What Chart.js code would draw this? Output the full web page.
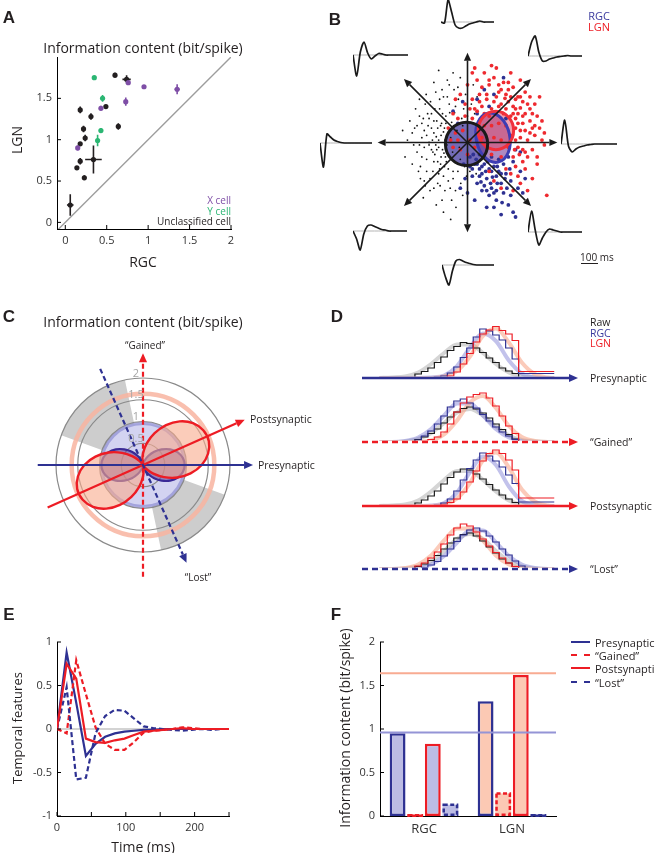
<!DOCTYPE html>
<html>
<head>
<meta charset="utf-8">
<script src="https://cdn.jsdelivr.net/npm/chart.js@4.4.1/dist/chart.umd.min.js"></script>
<style>
body { margin: 0; background: #fff; }
#fig { position: relative; width: 655px; height: 853px; overflow: hidden; font-family: "Open Sans", sans-serif; color: #231f20; }
#fig canvas { position: absolute; }
.t { position: absolute; white-space: nowrap; line-height: 1; }
.key { position: absolute; width: 19px; height: 0; }
</style>
</head>
<body>
<div id="fig"></div>
<script>
const BLUE = '#2e3192', RED = '#ed1c24', PURPLE = '#7e4ea6', GREEN = '#2bb673', INK = '#231f20';
const LAV_FILL = '#bcbce4', SALMON_FILL = '#fcc9b4', LAV_LINE = '#9494d6', SALMON_LINE = '#f8ab92';

// ---------- A: information content, RGC vs LGN
const xCells = [
  {x: 0.76, y: 1.69, xe: 0.02, ye: 0.03}, {x: 0.95, y: 1.64, xe: 0.02, ye: 0.02},
  {x: 1.35, y: 1.61, xe: 0.03, ye: 0.06}, {x: 0.73, y: 1.46, xe: 0.015, ye: 0.05},
  {x: 0.43, y: 1.38, xe: 0.015, ye: 0.03}, {x: 0.15, y: 0.90, xe: 0.01, ye: 0.03}];
const yCells = [
  {x: 0.35, y: 1.75, xe: 0.015, ye: 0.02}, {x: 0.45, y: 1.50, xe: 0.015, ye: 0.04},
  {x: 0.43, y: 1.11, xe: 0.01, ye: 0.03}, {x: 0.39, y: 0.99, xe: 0.01, ye: 0.07}];
const otherCells = [
  {x: 0.60, y: 1.78, xe: 0.01, ye: 0.03}, {x: 0.74, y: 1.73, xe: 0.05, ye: 0.05},
  {x: 0.49, y: 1.40, xe: 0.01, ye: 0.02}, {x: 0.18, y: 1.36, xe: 0.01, ye: 0.04},
  {x: 0.31, y: 1.28, xe: 0.01, ye: 0.04}, {x: 0.22, y: 1.13, xe: 0.01, ye: 0.04},
  {x: 0.24, y: 1.02, xe: 0.01, ye: 0.04}, {x: 0.18, y: 0.95, xe: 0.01, ye: 0.02},
  {x: 0.18, y: 0.74, xe: 0.01, ye: 0.04}, {x: 0.14, y: 0.66, xe: 0.01, ye: 0.02},
  {x: 0.23, y: 0.54, xe: 0.01, ye: 0.03}, {x: 0.64, y: 1.16, xe: 0.02, ye: 0.04},
  {x: 0.34, y: 0.76, xe: 0.10, ye: 0.17}, {x: 0.06, y: 0.21, xe: 0.04, ye: 0.13}];
const unityLine = [{x: -0.1, y: -0.1}, {x: 2, y: 2}];
const ticksAx = [0, 0.5, 1, 1.5, 2];
const ticksAy = [0, 0.5, 1, 1.5];

// ---------- B: stimulus space scatter
const rawPts = [[-1.25,0.05],[-1.1,0.3],[-1.05,-0.2],[-1.0,0.55],[-0.98,-0.5],[-0.95,0.1],[-0.9,-0.8],[-0.88,0.8],
  [-0.85,-0.35],[-0.82,0.35],[-0.8,-0.05],[-0.78,-1.0],[-0.75,0.6],[-0.72,-0.6],[-0.7,0.2],[-0.68,-0.25],[-0.66,1.05],
  [-0.64,0.45],[-0.62,-0.85],[-0.6,-0.1],[-0.58,0.7],[-0.56,-0.45],[-0.55,0.15],[-0.53,-1.2],[-0.5,0.95],[-0.5,-0.7],
  [-0.48,0.3],[-0.46,-0.3],[-0.45,0.55],[-0.43,-0.05],[-0.42,1.3],[-0.4,-0.55],[-0.38,0.8],[-0.36,-0.95],[-0.35,0.1],
  [-0.33,0.42],[-0.31,-0.2],[-0.3,-0.75],[-0.28,1.1],[-0.27,0.62],[-0.25,-0.42],[-0.24,-1.35],[-0.22,0.25],[-0.2,-0.6],
  [-0.19,0.9],[-0.17,-0.1],[-0.15,1.35],[-0.14,-0.85],[-0.12,0.5],[-0.1,-1.1],[-0.08,0.7],[-0.06,-0.5],[-0.04,1.0],
  [-0.02,-0.7],[0.0,0.55],[0.05,-0.6],[0.08,0.8],[0.1,-0.55],[0.12,1.2],[0.15,0.6],[0.18,-0.65],[0.2,0.95],
  [-1.15,-0.45],[-1.2,0.45],[-0.92,-1.15],[-0.86,1.0],[-0.7,1.25],[-0.65,-1.3],[-0.52,-0.15],[-0.47,0.05],[-0.62,0.3],
  [-0.7,-0.4],[-0.8,0.5],[-0.9,0.25],[-0.95,-0.3],[-0.58,-0.55],[-0.44,-0.4],[-0.37,0.62],[-0.54,0.4],[-0.66,-0.05],
  [-0.75,-0.15],[-0.85,0.15],[-1.02,-0.6],[-1.08,0.7],[-0.3,1.45],[-0.5,-1.45],[-0.35,-1.6],[-0.6,1.5],[-1.3,-0.3],
  [-1.35,0.25],[-0.25,-1.0],[-0.1,0.35],[0.05,0.4],[-0.15,-0.35],[-1.0,0.9],[-0.78,-0.75],[-1.12,-0.05],[-0.92,0.5],
  [-0.6,0.05],[-0.55,-0.3],[-0.5,0.22],[-0.48,-0.5],[-0.45,0.4],[-0.7,0.45],[-0.72,-0.2],[-0.65,0.12],[-0.6,-0.65],
  [-0.52,0.6],[-0.8,0.0],[-0.85,-0.6],[-0.75,0.3],[-0.68,0.7],[-0.9,-0.1],[-0.95,0.4],[-1.0,-0.05],[-0.58,0.9],
  [-0.4,-0.8],[-0.42,0.95],[-0.3,-0.6],[-0.25,0.75],[-0.62,-0.4],[-0.77,0.85],[-0.88,-0.9],[-0.57,-0.9],[-0.47,-1.0],
  [-0.33,-1.2],[-0.2,1.15],[-0.38,1.2],[-1.15,0.2],[-1.05,0.35],[-0.98,-0.75],[-0.7,-0.95],[-0.53,1.1],[-0.83,0.6],
  [-0.64,-0.15],[-0.49,-0.22],[-0.56,0.35],[-0.73,0.05]];
const rgcPts = [[0.05,-0.5],[0.1,-0.7],[0.15,-0.45],[0.2,-0.85],[0.25,-0.55],[0.3,-0.65],[0.35,-0.45],[0.4,-0.75],
  [0.45,-0.55],[0.5,-0.95],[0.55,-0.5],[0.6,-0.7],[0.65,-0.6],[0.7,-0.85],[0.75,-0.45],[0.8,-0.65],[0.3,-1.0],
  [0.45,-1.1],[0.6,-1.2],[0.75,-1.05],[0.85,-1.3],[0.95,-1.45],[1.0,-1.55],[0.9,-1.1],[0.55,-1.35],[1.05,-0.95],
  [0.9,-0.8],[0.95,-0.4],[1.1,-0.6],[0.35,-0.3],[0.25,-0.25],[0.12,-0.25],[-0.05,-0.75],[-0.15,-0.95],[0.0,-1.05],
  [0.15,-1.2],[-0.1,0.85],[0.2,0.9],[0.45,0.75],[0.35,1.1],[0.8,0.5],[-0.3,0.65],[-0.2,0.4],[1.1,-0.2],[1.2,-0.75],
  [0.4,-1.35],[0.7,-1.5],[0.5,-0.3],[0.65,-0.35],[0.85,-0.3],[1.0,-0.15],[0.2,0.6],[0.6,-1.0],[0.28,-0.82],
  [0.72,-1.25],[0.05,-0.3],[-0.08,-0.45],[1.15,-1.05],[0.55,1.0],[0.75,1.35],[0.38,-0.6],[0.52,-0.72],[0.18,-0.35],
  [0.2,-0.45],[0.3,-0.5],[0.42,-0.4],[0.5,-0.6],[0.62,-0.5],[0.7,-0.65],[0.35,-0.9],[0.48,-0.85],[0.62,-0.85],
  [0.78,-0.75],[0.88,-0.55],[0.25,-0.7],[0.1,-0.55],[0.4,-1.0],[0.55,-1.05],[0.82,-0.95]];
const lgnPts = [[0.0,1.2],[0.1,1.45],[0.2,1.3],[0.3,1.15],[0.35,1.45],[0.45,1.2],[0.55,1.35],[0.65,1.05],[0.75,1.25],
  [0.85,1.1],[0.95,1.15],[1.05,0.95],[1.15,0.85],[1.2,1.05],[1.3,0.7],[1.4,0.8],[1.45,0.55],[1.3,0.45],[1.5,0.3],
  [1.55,0.05],[1.4,0.15],[1.6,-0.05],[1.35,-0.15],[1.25,-0.3],[1.45,-0.45],[1.2,-0.55],[1.35,-0.75],[1.1,-0.85],
  [1.25,-1.0],[1.65,-1.1],[1.05,0.6],[1.0,0.3],[1.1,0.1],[1.15,0.4],[1.05,-0.1],[0.95,0.75],[0.85,0.85],[0.7,0.8],
  [0.55,0.85],[0.4,0.9],[0.3,0.75],[0.2,0.65],[0.1,0.9],[-0.05,0.8],[-0.15,1.0],[-0.25,0.9],[-0.3,0.6],[-0.2,0.5],
  [-0.05,0.55],[0.1,0.5],[0.25,0.45],[0.9,0.55],[1.0,0.5],[1.2,0.25],[1.25,0.05],[0.95,-0.3],[1.0,-0.5],[0.9,-0.65],
  [0.8,-0.55],[0.55,-0.8],[0.45,-0.6],[0.7,-0.95],[0.95,-1.0],[1.5,0.95],[1.1,1.3],[0.6,1.55],[0.9,1.45],[1.3,0.95],
  [-0.4,0.3],[-0.35,0.05],[0.15,1.55],[0.5,1.6],[1.45,-0.3],[1.55,0.45],[1.6,0.2],[0.8,0.35],[0.75,0.6],[0.6,0.62],
  [0.45,0.55],[0.35,0.35],[0.3,0.1],[0.4,-0.1],[0.5,-0.25],[0.7,-0.3],[0.85,-0.1],[0.9,0.15],[0.55,0.1],[0.7,0.05],
  [0.65,0.4],[0.5,0.35],[1.1,0.72],[1.35,0.3],[1.2,-0.2],[0.65,1.2],[0.25,1.0],[-0.1,0.25],[-0.25,0.2],[-0.3,-0.1],
  [-0.15,-0.15],[0.05,0.05],[0.15,-0.1],[-0.2,0.05],[0.0,-0.25],[1.0,0.9],[1.15,0.55],[0.8,1.0],
  [0.35,0.6],[0.5,0.7],[0.65,0.75],[0.8,0.7],[0.95,0.6],[1.05,0.4],[1.1,0.25],[1.0,0.05],[1.08,-0.25],[0.98,-0.15],
  [1.15,-0.4],[0.4,1.0],[0.6,0.95],[0.78,0.92],[0.9,0.95],[1.0,0.7],[1.2,0.6],[1.25,0.8],[0.85,1.25],[0.45,1.3],
  [1.3,0.2],[1.4,0.35],[1.35,0.6],[0.25,0.85],[0.15,0.7],[0.05,0.7],[1.05,-0.7],[1.15,-0.15],[1.1,0.95],[0.7,1.1]];
// cluster outlines: [centre x, centre y, radius x, radius y, tilt deg]
const rawEllipse = [-0.02, -0.03, 0.44, 0.45, 0];
const rgcEllipse = [0.53, 0.1, 0.35, 0.52, -12];
const lgnEllipse = [0.59, 0.25, 0.37, 0.4, 0];
const bDirections = [0, 45, 90, 135, 180, 225, 270, 315];
// filter time courses shown at the end of each direction
const waveRight = [0, 24, -2, -8, -5, -3, -2, -1, -0.5, 0, 0, 0, 0, 0, 0, 0];
const waveUpRight = [0, 14, 20, 4, -5, -5, -3, -2, -1, -0.5, 0, 0.5, 0, 0, 0, 0];
const waveUp = [0, -1, 22, 10, -3, -6, -6, -4, -2, -1, 0, 1, 0, 0, 0, 0];
const waveUpLeft = [0, -21, 3, 13, 2, -4, -1, 1.5, 1, 0, 0, 0, 0, 0, 0, 0];
const waveLeft = [0, -24, 9, 6, 3, 1.5, 0.5, 0, 0, 0, 0, 0, 0, 0, 0, 0];
const waveDownLeft = [0, -8, -19, -3, 5, 6, 4.5, 3, 1.5, 1, 0, 0, 0, 0, 0, 0];
const waveDown = [0, -12, -20, -6, 4, 5.5, 4, 2.5, 1.5, 0.5, 0, 0, 0, 0, 0, 0];
const waveDownRight = [0, 21, 2, -13, -6, 0, 3, 2, 1, 0, 0, 0, 0, 0, 0, 0];

// ---------- C: polar information content
const lobeAngle = [0,350,340,330,320,310,300,290,280,270,260,250,240,230,220,210,200,190,
  180,170,160,150,140,130,120,110,100,90,80,70,60,50,40,30,20,10];
const rgcLobe = [0.96,0.93,0.85,0.72,0.56,0.40,0.24,0.11,0.03,0,0.03,0.11,0.24,0.40,0.56,0.72,0.85,0.93,
  0.96,0.93,0.85,0.72,0.56,0.40,0.24,0.11,0.03,0,0.03,0.11,0.24,0.40,0.56,0.72,0.85,0.93];
const lgnLobe = [1.35,1.11,0.84,0.56,0.31,0.12,0.02,0.01,0.09,0.27,0.51,0.78,1.06,1.31,1.50,1.60,1.61,1.52,
  1.35,1.11,0.84,0.56,0.31,0.12,0.02,0.01,0.09,0.27,0.51,0.78,1.06,1.31,1.50,1.60,1.61,1.52];
const ringTicks = [0.5, 1, 1.5, 2];
const lostWedge = [102, 160];   // degrees, mirrored through the origin

// ---------- D: projections onto each feature
const dX = [8,11,14,17,20,23,26,29,32,35,38,41,44,47,50,53,56,59,62,65,68,71,74,77,80,83,86,89];
const fitX = [8,14,20,26,32,38,44,50,56,62,68,74,80,86,89];
const raw1 = [0,0,0,0,0,0,0.08,0.13,0.2,0.31,0.42,0.55,0.63,0.71,0.69,0.6,0.51,0.4,0.31,0.2,0.14,0.09,0,0,0,0,0,0];
const rgc1 = [0,0,0,0,0,0,0,0,0,0.02,0.04,0.1,0.22,0.41,0.6,0.82,0.98,0.94,0.86,0.76,0.6,0.38,0.09,0.09,0.09,0.09,0.09,0.09];
const lgn1 = [0,0,0,0,0,0,0,0,0,0,0.01,0.04,0.12,0.28,0.49,0.72,0.88,0.96,1.03,0.95,0.88,0.75,0.13,0.13,0.13,0.13,0.13,0.13];
const raw2 = [0,0,0,0,0,0,0.05,0.1,0.17,0.26,0.38,0.5,0.6,0.67,0.7,0.66,0.58,0.48,0.36,0.25,0.15,0.06,0,0,0,0,0,0];
const rgc2 = [0,0,0,0,0,0,0.04,0.12,0.22,0.36,0.52,0.7,0.82,0.86,0.78,0.68,0.55,0.42,0.3,0.2,0.12,0.05,0,0,0,0,0,0];
const lgn2 = [0,0,0,0,0,0,0,0.02,0.05,0.1,0.2,0.36,0.6,0.78,0.9,0.95,0.98,0.88,0.72,0.52,0.32,0.17,0,0,0,0,0,0];
const raw3 = [0,0,0,0,0,0,0.06,0.12,0.2,0.3,0.44,0.57,0.68,0.74,0.72,0.64,0.54,0.43,0.32,0.22,0.14,0.07,0,0,0,0,0,0];
const rgc3 = [0,0,0,0,0,0,0,0,0,0.02,0.06,0.14,0.3,0.52,0.75,0.92,1.06,1.0,0.9,0.78,0.62,0.45,0.08,0.08,0.08,0.08,0.08,0.08];
const lgn3 = [0,0,0,0,0,0,0,0,0,0.01,0.03,0.07,0.14,0.28,0.48,0.7,0.9,1.05,1.12,1.05,0.92,0.72,0.16,0.16,0.16,0.16,0.16,0.16];
const raw4 = [0,0,0,0,0,0,0.05,0.1,0.17,0.27,0.4,0.52,0.62,0.69,0.72,0.66,0.56,0.44,0.32,0.2,0.12,0.05,0,0,0,0,0,0];
const rgc4 = [0,0,0,0,0,0,0,0.03,0.08,0.15,0.26,0.4,0.55,0.68,0.78,0.82,0.76,0.66,0.54,0.4,0.28,0.16,0.06,0,0,0,0,0];
const lgn4 = [0,0,0,0,0,0,0.06,0.12,0.22,0.34,0.5,0.68,0.82,0.9,0.86,0.74,0.6,0.46,0.33,0.22,0.12,0.05,0,0,0,0,0,0];
const fitRaw1 = [0,0.01,0.03,0.11,0.28,0.5,0.67,0.67,0.5,0.28,0.11,0.03,0.01,0,0];
const fitRgc1 = [0,0,0,0,0.01,0.05,0.24,0.61,0.89,0.74,0.35,0.09,0.01,0,0];
const fitLgn1 = [0,0,0,0,0,0.03,0.14,0.43,0.84,0.99,0.71,0.31,0.08,0.01,0];
const fitRaw2 = [0,0,0.01,0.06,0.18,0.38,0.59,0.66,0.53,0.31,0.13,0.04,0.01,0,0];
const fitRgc2 = [0,0,0.02,0.09,0.26,0.53,0.77,0.77,0.53,0.26,0.09,0.02,0,0,0];
const fitLgn2 = [0,0,0,0,0.03,0.15,0.43,0.79,0.92,0.68,0.32,0.1,0.02,0,0];
const fitRaw3 = [0,0.01,0.03,0.11,0.29,0.52,0.7,0.7,0.52,0.29,0.11,0.03,0.01,0,0];
const fitRgc3 = [0,0,0,0,0.01,0.06,0.27,0.68,0.99,0.82,0.39,0.1,0.02,0,0];
const fitLgn3 = [0,0,0,0,0,0.03,0.15,0.46,0.91,1.07,0.77,0.33,0.09,0.01,0];
const fitRaw4 = [0,0,0.01,0.05,0.16,0.36,0.6,0.7,0.6,0.36,0.16,0.05,0.01,0,0];
const fitRgc4 = [0,0,0,0.02,0.09,0.26,0.53,0.77,0.77,0.53,0.26,0.09,0.02,0,0];
const fitLgn4 = [0,0,0.02,0.09,0.27,0.57,0.81,0.81,0.57,0.27,0.09,0.02,0,0,0];
const dLabels = ['Presynaptic', '\u201cGained\u201d', 'Postsynaptic', '\u201cLost\u201d'];

// ---------- E: temporal features
const timeMs = [0,14,28,42,56,70,84,98,112,126,140,154,168,182,196,210,224,238,250];
const presynE = [0,0.88,0.30,-0.31,-0.17,-0.09,-0.05,-0.03,-0.02,-0.01,-0.01,0,0,0,0,0,0,0,0];
const gainedE = [0,-0.05,0.79,0.40,0.02,-0.17,-0.24,-0.24,-0.15,-0.04,-0.02,-0.01,0,0.02,0.01,0,0,0,0];
const postsynE = [0,0.75,0.58,-0.11,-0.15,-0.16,-0.13,-0.11,-0.07,-0.03,-0.02,-0.01,0,0.01,0,0,0,0,0];
const lostE = [0,0.48,-0.58,-0.56,-0.05,0.15,0.22,0.21,0.12,0.03,0.01,0,-0.01,-0.02,-0.01,0,-0.01,0,0];
const ticksEx = [0, 50, 100, 150, 200, 250];
const ticksEy = [-1, -0.5, 0, 0.5, 1];

// ---------- F: information per feature
const fGroups = ['RGC', 'LGN'];
const fPre = [0.95, 1.32];
const fGained = [0.01, 0.26];
const fPost = [0.83, 1.62];
const fLost = [0.13, 0.01];
const RGC_MAX = 0.96, LGN_MAX = 1.64;
const ticksFy = [0, 0.5, 1, 1.5, 2];

Chart.defaults.font.family = '"Open Sans", sans-serif';
Chart.defaults.color = INK;
Chart.defaults.animation = false;
Chart.defaults.plugins.legend.display = false;
Chart.defaults.plugins.tooltip.enabled = false;

const fig = document.getElementById('fig');

function makeCanvas(x, y, w, h) {
  const c = document.createElement('canvas');
  c.width = w; c.height = h;
  c.style.left = x + 'px'; c.style.top = y + 'px';
  fig.appendChild(c);
  return c;
}

function text(str, x, y, o = {}) {
  const d = document.createElement('div');
  d.className = 't';
  d.textContent = str;
  d.style.left = x + 'px';
  d.style.top = y + 'px';
  d.style.fontSize = (o.size || 11) + 'px';
  if (o.color) d.style.color = o.color;
  if (o.bold) { d.style.fontWeight = 'bold'; d.style.fontFamily = '"Liberation Sans", Arial, sans-serif'; }
  const ax = o.align === 'left' ? '0' : o.align === 'right' ? '-100%' : '-50%';
  d.style.transform = 'translate(' + ax + ',-50%)' + (o.rot ? ' rotate(-90deg)' : '');
  fig.appendChild(d);
}

function arrow(ctx, x0, y0, x1, y1, color, width, dash, head) {
  const a = Math.atan2(y1 - y0, x1 - x0);
  const hx = x1 - head * Math.cos(a), hy = y1 - head * Math.sin(a);
  ctx.save();
  ctx.strokeStyle = color; ctx.fillStyle = color; ctx.lineWidth = width;
  ctx.setLineDash(dash);
  ctx.beginPath(); ctx.moveTo(x0, y0); ctx.lineTo(hx, hy); ctx.stroke();
  ctx.setLineDash([]);
  ctx.beginPath();
  ctx.moveTo(x1, y1);
  ctx.lineTo(hx + head * 0.45 * Math.sin(a), hy - head * 0.45 * Math.cos(a));
  ctx.lineTo(hx - head * 0.45 * Math.sin(a), hy + head * 0.45 * Math.cos(a));
  ctx.closePath(); ctx.fill();
  ctx.restore();
}

// matlab style ticks pointing into the plot
const inTicks = {
  id: 'inTicks',
  afterDraw(chart, args, opts) {
    const ctx = chart.ctx, a = chart.chartArea;
    ctx.save(); ctx.strokeStyle = '#000'; ctx.lineWidth = 1;
    (opts.axes || []).forEach(id => {
      const s = chart.scales[id];
      s.ticks.forEach(t => {
        const p = s.getPixelForValue(t.value);
        ctx.beginPath();
        if (s.isHorizontal()) { ctx.moveTo(p, a.bottom); ctx.lineTo(p, a.bottom - 4); }
        else { ctx.moveTo(a.left, p); ctx.lineTo(a.left + 4, p); }
        ctx.stroke();
      });
    });
    ctx.restore();
  }
};

function axis(min, max, ticks, size, horizontal, pad) {
  return {
    type: 'linear', min: min, max: max,
    afterBuildTicks: s => { s.ticks = ticks.map(v => ({value: v})); },
    afterFit: s => { if (horizontal) s.height = size; else s.width = size; },
    grid: {display: false, drawTicks: false},
    border: {display: true, color: '#000', width: 1},
    ticks: {autoSkip: false, maxRotation: 0, padding: pad, font: {size: 11}, color: '#333', callback: v => String(v)}
  };
}

// ================= A
const errorBars = {
  id: 'errorBars',
  beforeDatasetsDraw(chart) {
    const ctx = chart.ctx, sx = chart.scales.x, sy = chart.scales.y;
    chart.data.datasets.forEach(ds => {
      if (!ds.errorBars) return;
      ctx.save(); ctx.strokeStyle = ds.backgroundColor; ctx.lineWidth = 1.6;
      ds.data.forEach(d => {
        const px = sx.getPixelForValue(d.x), py = sy.getPixelForValue(d.y);
        ctx.beginPath();
        ctx.moveTo(sx.getPixelForValue(d.x - d.xe), py); ctx.lineTo(sx.getPixelForValue(d.x + d.xe), py);
        ctx.moveTo(px, sy.getPixelForValue(d.y - d.ye)); ctx.lineTo(px, sy.getPixelForValue(d.y + d.ye));
        ctx.stroke();
      });
      ctx.restore();
    });
  }
};

new Chart(makeCanvas(0, 0, 330, 290), {
  type: 'scatter',
  data: {datasets: [
    {data: xCells, backgroundColor: PURPLE, pointRadius: 2.6, borderWidth: 0, errorBars: true},
    {data: yCells, backgroundColor: GREEN, pointRadius: 2.6, borderWidth: 0, errorBars: true},
    {data: otherCells, backgroundColor: INK, pointRadius: 2.6, borderWidth: 0, errorBars: true},
    {type: 'line', data: unityLine, borderColor: '#9d9d9d', borderWidth: 1.4, pointRadius: 0}
  ]},
  options: {
    responsive: false,
    layout: {padding: {top: 57, right: 99}},
    scales: {x: axis(-0.1, 2, ticksAx, 61, true, 5), y: axis(-0.08, 2, ticksAy, 57, false, 5)},
    plugins: {inTicks: {axes: ['x', 'y']}}
  },
  plugins: [inTicks, errorBars]
});

text('A', 9, 17, {size: 17, bold: true});
text('Information content (bit/spike)', 143, 48, {size: 14});
text('LGN', 17, 140, {size: 14, rot: true});
text('RGC', 143, 262, {size: 14});
text('X cell', 231, 200, {size: 10, color: PURPLE, align: 'right'});
text('Y cell', 231, 210.5, {size: 10, color: GREEN, align: 'right'});
text('Unclassified cell', 231, 221, {size: 10, align: 'right'});

// ================= B
function ellipsePath(ctx, sx, sy, e) {
  const rx = Math.abs(sx.getPixelForValue(e[2]) - sx.getPixelForValue(0));
  const ry = Math.abs(sy.getPixelForValue(e[3]) - sy.getPixelForValue(0));
  ctx.beginPath();
  ctx.ellipse(sx.getPixelForValue(e[0]), sy.getPixelForValue(e[1]), rx, ry, e[4] * Math.PI / 180, 0, 2 * Math.PI);
}

const bDecor = {
  id: 'bDecor',
  beforeDatasetsDraw(chart) {
    const ctx = chart.ctx, sx = chart.scales.x, sy = chart.scales.y;
    ctx.save();
    ellipsePath(ctx, sx, sy, rawEllipse); ctx.fillStyle = 'rgba(80,70,165,0.8)'; ctx.fill();
    ellipsePath(ctx, sx, sy, rgcEllipse); ctx.fillStyle = 'rgba(120,60,150,0.6)'; ctx.fill();
    ellipsePath(ctx, sx, sy, lgnEllipse); ctx.fillStyle = 'rgba(225,70,100,0.5)'; ctx.fill();
    ctx.restore();
  },
  afterDatasetsDraw(chart) {
    const ctx = chart.ctx, sx = chart.scales.x, sy = chart.scales.y;
    ctx.save(); ctx.lineWidth = 3;
    ellipsePath(ctx, sx, sy, rgcEllipse); ctx.strokeStyle = '#3d3db4'; ctx.stroke();
    ellipsePath(ctx, sx, sy, lgnEllipse); ctx.strokeStyle = '#f0303c'; ctx.stroke();
    ellipsePath(ctx, sx, sy, rawEllipse); ctx.strokeStyle = '#1a1a1a'; ctx.stroke();
    ctx.restore();
    const x0 = sx.getPixelForValue(0), y0 = sy.getPixelForValue(0);
    bDirections.forEach(deg => {
      const r = deg * Math.PI / 180;
      arrow(ctx, x0, y0, sx.getPixelForValue(1.87 * Math.cos(r)), sy.getPixelForValue(1.87 * Math.sin(r)),
        '#1a1a1a', 1.6, [], 8);
    });
  }
};

const toXY = pts => pts.map(p => ({x: p[0], y: p[1]}));
new Chart(makeCanvas(365, 40, 205, 205), {
  type: 'scatter',
  data: {datasets: [
    {data: toXY(lgnPts), backgroundColor: '#ee2a2f', pointRadius: 1.9, borderWidth: 0},
    {data: toXY(rgcPts), backgroundColor: '#2e3192', pointRadius: 1.9, borderWidth: 0},
    {data: toXY(rawPts), backgroundColor: '#111', pointRadius: 0.9, borderWidth: 0}
  ]},
  options: {
    responsive: false,
    scales: {x: {display: false, min: -2.05, max: 2.05}, y: {display: false, min: -2.05, max: 2.05}}
  },
  plugins: [bDecor]
});

// waveform thumbnails: [data, left, baseline y, width]
const waves = [
  [waveUp, 441, 22, 53], [waveUpRight, 528, 56, 54], [waveRight, 561, 144, 56], [waveDownRight, 528, 232, 54],
  [waveDown, 442, 265, 52], [waveDownLeft, 353, 231, 54], [waveLeft, 320, 143, 52], [waveUpLeft, 353, 55, 55]];
waves.forEach(w => {
  new Chart(makeCanvas(w[1], w[2] - 25, w[3], 50), {
    type: 'line',
    data: {labels: w[0].map((v, i) => i), datasets: [
      {data: w[0], borderColor: '#1a1a1a', borderWidth: 1.7, pointRadius: 0, tension: 0.25},
      {data: w[0].map(() => 0), borderColor: '#b5b5b5', borderWidth: 1, pointRadius: 0}
    ]},
    options: {responsive: false, scales: {x: {display: false}, y: {display: false, min: -25, max: 25}}}
  });
});

text('B', 335, 19, {size: 17, bold: true});
text('RGC', 610, 15, {size: 11, color: '#3a3a9e', align: 'right'});
text('LGN', 610, 26, {size: 11, color: RED, align: 'right'});
text('100 ms', 580, 257, {size: 10, align: 'left'});
const bar100 = document.createElement('div');
bar100.style.cssText = 'position:absolute;left:581px;top:263px;width:17px;height:0;border-top:1.3px solid #231f20;';
fig.appendChild(bar100);

// ================= C
const cDecor = {
  id: 'cDecor',
  beforeDraw(chart) {
    const ctx = chart.ctx, s = chart.scales.r, cx = s.xCenter, cy = s.yCenter;
    const R = v => s.getDistanceFromCenterForValue(v);
    ctx.save();
    ctx.fillStyle = '#cdcdcd';
    [0, 180].forEach(off => {
      const a0 = -(lostWedge[1] + off) * Math.PI / 180, a1 = -(lostWedge[0] + off) * Math.PI / 180;
      ctx.beginPath();
      ctx.arc(cx, cy, R(2), a0, a1);
      ctx.arc(cx, cy, R(RGC_MAX), a1, a0, true);
      ctx.closePath(); ctx.fill();
    });
    ctx.beginPath(); ctx.arc(cx, cy, R(RGC_MAX), 0, 2 * Math.PI);
    ctx.fillStyle = 'rgba(196,196,236,0.75)'; ctx.fill();
    ctx.lineWidth = 3.5; ctx.strokeStyle = 'rgba(150,150,215,0.8)'; ctx.stroke();
    ctx.beginPath(); ctx.arc(cx, cy, R(LGN_MAX), 0, 2 * Math.PI);
    ctx.lineWidth = 4.5; ctx.strokeStyle = 'rgba(248,180,160,0.85)'; ctx.stroke();
    ctx.restore();
  },
  afterDatasetsDraw(chart) {
    const ctx = chart.ctx, s = chart.scales.r, cx = s.xCenter, cy = s.yCenter;
    const R = v => s.getDistanceFromCenterForValue(v);
    const pt = (deg, v) => [cx + R(v) * Math.cos(deg * Math.PI / 180), cy - R(v) * Math.sin(deg * Math.PI / 180)];
    const axes = [
      [180, 2.42, 0, 2.53, BLUE, []], [204, 2.4, 24, 2.56, RED, []],
      [270, 2.57, 90, 2.57, RED, [5, 3]], [114, 2.42, -66, 2.46, BLUE, [5, 3]]];
    axes.forEach(a => {
      const p0 = pt(a[0], a[1]), p1 = pt(a[2], a[3]);
      arrow(ctx, p0[0], p0[1], p1[0], p1[1], a[4], 2.2, a[5], 9);
    });
    ctx.save();
    ctx.fillStyle = '#a5a5a5'; ctx.font = '11px "Open Sans", sans-serif';
    ctx.textAlign = 'center'; ctx.textBaseline = 'bottom';
    ringTicks.forEach(v => ctx.fillText(String(v), cx - 7, cy - R(v) + 1));
    ctx.restore();
  }
};

new Chart(makeCanvas(0, 320, 330, 290), {
  type: 'radar',
  data: {labels: lobeAngle, datasets: [
    {data: lgnLobe, borderColor: RED, borderWidth: 2.4, backgroundColor: 'rgba(248,170,140,0.6)', fill: true, pointRadius: 0, tension: 0.3},
    {data: rgcLobe, borderColor: '#3b2a96', borderWidth: 2.2, backgroundColor: 'rgba(95,60,140,0.55)', fill: true, pointRadius: 0, tension: 0.3}
  ]},
  options: {
    responsive: false,
    layout: {padding: {left: 56, right: 100, top: 58, bottom: 58}},
    scales: {r: {
      min: 0, max: 2, startAngle: 90,
      ticks: {display: false, stepSize: 0.5},
      grid: {circular: true, color: '#8a8a8a', lineWidth: 1.2},
      angleLines: {display: false},
      pointLabels: {display: false}
    }}
  },
  plugins: [cDecor]
});

text('C', 9, 316, {size: 17, bold: true});
text('Information content (bit/spike)', 143, 322, {size: 14});
text('\u201cGained\u201d', 145, 345, {size: 10});
text('Postsynaptic', 250, 419, {size: 10.5, align: 'left'});
text('Presynaptic', 258, 465, {size: 10.5, align: 'left'});
text('\u201cLost\u201d', 198, 577, {size: 10});

// ================= D
const dRows = [
  [raw1, rgc1, lgn1, fitRaw1, fitRgc1, fitLgn1],
  [raw2, rgc2, lgn2, fitRaw2, fitRgc2, fitLgn2],
  [raw3, rgc3, lgn3, fitRaw3, fitRgc3, fitLgn3],
  [raw4, rgc4, lgn4, fitRaw4, fitRgc4, fitLgn4]];
const dBase = [378, 442, 506, 569];
const dArrowStyle = [[BLUE, []], [RED, [6, 4]], [RED, []], [BLUE, [6, 4]]];

const dArrow = {
  id: 'dArrow',
  afterDatasetsDraw(chart, args, opts) {
    const sx = chart.scales.x, y = chart.chartArea.bottom;
    arrow(chart.ctx, sx.getPixelForValue(0), y, sx.getPixelForValue(100), y, opts.color, 2.3, opts.dash, 9);
  }
};

const clipAbove = {left: 5, right: 5, top: 10, bottom: -1.5};
dRows.forEach((row, k) => {
  const hist = (arr, color) => ({data: dX.map((x, i) => ({x: x, y: arr[i]})), borderColor: color,
    borderWidth: 1.2, pointRadius: 0, stepped: 'middle', clip: clipAbove});
  const fit = (arr, color) => ({data: fitX.map((x, i) => ({x: x, y: arr[i]})), borderColor: color,
    borderWidth: 4, pointRadius: 0, cubicInterpolationMode: 'monotone', clip: clipAbove});
  new Chart(makeCanvas(355, dBase[k] - 62, 235, 70), {
    type: 'line',
    data: {datasets: [
      hist(row[2], RED), hist(row[1], BLUE), hist(row[0], '#1a1a1a'),
      fit(row[5], 'rgba(248,160,130,0.55)'), fit(row[4], 'rgba(120,120,210,0.45)'), fit(row[3], 'rgba(150,150,150,0.4)')
    ]},
    options: {
      responsive: false,
      layout: {padding: {left: 7, right: 12, top: 2, bottom: 8}},
      scales: {x: {type: 'linear', display: false, min: 0, max: 100}, y: {display: false, min: 0, max: 1.2}},
      plugins: {dArrow: {color: dArrowStyle[k][0], dash: dArrowStyle[k][1]}}
    },
    plugins: [dArrow]
  });
  text(dLabels[k], 590, dBase[k], {size: 10.5, align: 'left'});
});

text('D', 337, 316, {size: 17, bold: true});
text('Raw', 590, 322, {size: 10.5, align: 'left'});
text('RGC', 590, 332.5, {size: 10.5, align: 'left', color: '#3a3a9e'});
text('LGN', 590, 343, {size: 10.5, align: 'left', color: RED});

// ================= E
const lineE = (arr, color, dash) => ({data: timeMs.map((t, i) => ({x: t, y: arr[i]})), borderColor: color,
  borderWidth: 2.2, borderDash: dash, pointRadius: 0});
const axEx = axis(0, 250, ticksEx, 37, true, 5);
axEx.ticks.callback = v => (v % 100 === 0 ? String(v) : '');
new Chart(makeCanvas(0, 600, 330, 253), {
  type: 'line',
  data: {datasets: [
    lineE(postsynE, RED, []), lineE(lostE, BLUE, [5, 3]), lineE(gainedE, RED, [5, 3]), lineE(presynE, BLUE, []),
    {data: [{x: 0, y: 0}, {x: 250, y: 0}], borderColor: '#a8a8a8', borderWidth: 1.2, pointRadius: 0}
  ]},
  options: {
    responsive: false,
    layout: {padding: {top: 42, right: 101}},
    scales: {x: axEx, y: axis(-1, 1, ticksEy, 57, false, 5)},
    plugins: {inTicks: {axes: ['x', 'y']}}
  },
  plugins: [inTicks]
});

text('E', 9, 614, {size: 17, bold: true});
text('Temporal features', 17, 728, {size: 13, rot: true});
text('Time (ms)', 143, 847, {size: 14});

// ================= F
const fDecor = {
  id: 'fDecor',
  afterDatasetsDraw(chart) {
    const ctx = chart.ctx, a = chart.chartArea, sy = chart.scales.y;
    chart.data.datasets.forEach((ds, i) => {
      if (!ds.dashColor) return;
      chart.getDatasetMeta(i).data.forEach(bar => {
        const p = bar.getProps(['x', 'y', 'base', 'width'], true);
        ctx.save();
        ctx.strokeStyle = ds.dashColor; ctx.lineWidth = 2.5; ctx.setLineDash([4, 2.5]);
        ctx.strokeRect(p.x - p.width / 2 + 1.25, p.y, p.width - 2.5, Math.max(p.base - p.y - 1.25, 0.5));
        ctx.restore();
      });
    });
    [[LGN_MAX, SALMON_LINE], [RGC_MAX, LAV_LINE]].forEach(r => {
      const y = sy.getPixelForValue(r[0]);
      ctx.save(); ctx.strokeStyle = r[1]; ctx.lineWidth = 2;
      ctx.beginPath(); ctx.moveTo(a.left, y); ctx.lineTo(a.right, y); ctx.stroke();
      ctx.restore();
    });
  }
};

const barF = (arr, color, dashed) => ({data: arr, backgroundColor: [LAV_FILL, SALMON_FILL],
  borderColor: color, borderWidth: dashed ? 0 : 2.5, borderSkipped: false, dashColor: dashed ? color : null});
const axFx = {
  afterFit: s => { s.height = 37; },
  grid: {display: false, drawTicks: false},
  border: {display: true, color: '#000', width: 1},
  ticks: {padding: 5, font: {size: 13}, color: '#333'}
};
new Chart(makeCanvas(330, 600, 325, 253), {
  type: 'bar',
  data: {labels: fGroups, datasets: [
    barF(fPre, BLUE, false), barF(fGained, RED, true), barF(fPost, RED, false), barF(fLost, BLUE, true)
  ]},
  options: {
    responsive: false,
    layout: {padding: {top: 42, right: 99}},
    scales: {x: axFx, y: axis(0, 2, ticksFy, 50, false, 5)},
    plugins: {inTicks: {axes: ['y']}}
  },
  plugins: [inTicks, fDecor]
});

text('F', 336, 614, {size: 17, bold: true});
text('Information content (bit/spike)', 345, 728, {size: 14, rot: true});
const fKeys = [['Presynaptic', BLUE, 'solid'], ['\u201cGained\u201d', RED, 'dashed'],
  ['Postsynaptic', RED, 'solid'], ['\u201cLost\u201d', BLUE, 'dashed']];
const fKeyY = [641.5, 654.5, 668, 681.5];
fKeys.forEach((k, i) => {
  const d = document.createElement('div');
  d.className = 'key';
  d.style.left = '571px'; d.style.top = (fKeyY[i] - 1) + 'px';
  d.style.borderTop = '2.5px ' + k[2] + ' ' + k[1];
  fig.appendChild(d);
  text(k[0], 595, fKeyY[i], {size: 11, align: 'left'});
});
</script>
</body>
</html>
